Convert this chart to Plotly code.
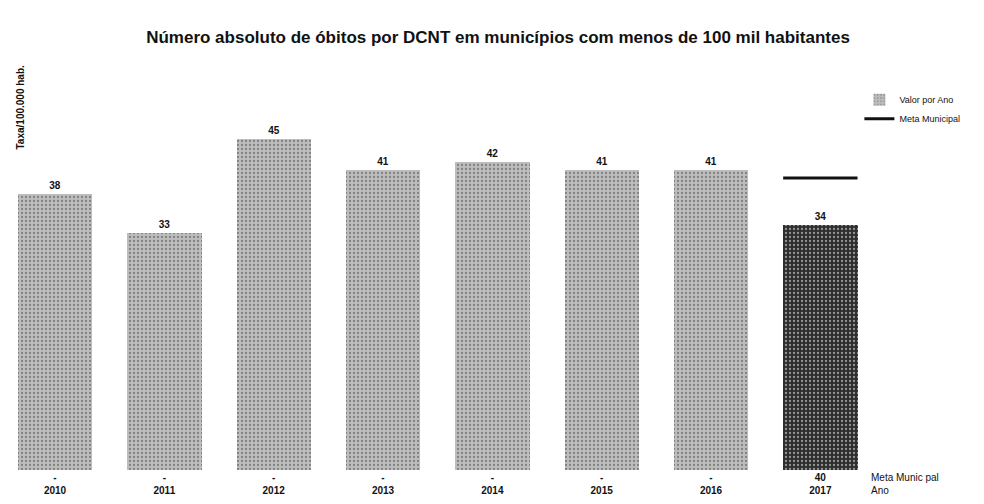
import plotly.graph_objects as go

# -- Chart data -- #
anos = ['2010', '2011', '2012', '2013', '2014', '2015', '2016', '2017']
valor_por_ano = [38, 33, 45, 41, 42, 41, 41, 34]
meta_municipal = [None, None, None, None, None, None, None, 40]

titulo = 'Número absoluto de óbitos por DCNT em municípios com menos de 100 mil habitantes'

# -- Derived helpers -- #
pos = list(range(len(anos)))
cores = ['#bdbdbd'] * (len(anos) - 1) + ['#2e2e2e']
tick_text = ['<b>%s</b><br><b>%s</b>' % ('-' if m is None else m, a)
             for m, a in zip(meta_municipal, anos)]

meta_x, meta_y = [], []
for i, m in enumerate(meta_municipal):
    if m is not None:
        meta_x += [i - 0.34, i + 0.34, None]
        meta_y += [m, m, None]

fig = go.Figure()

fig.add_trace(go.Bar(name='Valor por Ano', x=pos, y=valor_por_ano, width=0.68,
                     marker=dict(color=cores, line=dict(width=0),
                                 pattern=dict(shape='.', fgcolor='#6f6f6f', size=4, solidity=0.25)),
                     text=['<b>%d</b>' % v for v in valor_por_ano], textposition='outside',
                     textfont=dict(size=10, color='#111111'), cliponaxis=False))

fig.add_trace(go.Scatter(name='Meta Municipal', x=meta_x, y=meta_y, mode='lines',
                         line=dict(color='#111111', width=3)))

# -- Layout configuration -- #
fig.update_layout(width=984, height=504, plot_bgcolor='white', paper_bgcolor='white',
                  margin=dict(l=0, r=117, t=99, b=42),
                  font=dict(family='Liberation Sans, Arial, sans-serif', color='#111111'),
                  title=dict(text='<b>%s</b>' % titulo, x=0.498, xanchor='center', y=0.955,
                             font=dict(size=17, color='#111111')),
                  legend=dict(x=0.982, y=1.06, xanchor='left', yanchor='top', font=dict(size=9),
                              bgcolor='rgba(0,0,0,0)', itemwidth=30, tracegroupgap=0),
                  showlegend=True, bargap=0)

fig.update_xaxes(range=[-0.43, 7.5], tickmode='array', tickvals=pos, ticktext=tick_text,
                 showgrid=False, zeroline=False, showline=False, ticks='',
                 tickfont=dict(size=10, color='#111111'))
fig.update_yaxes(range=[3, 49], showticklabels=False, showgrid=False, zeroline=False, showline=False)

fig.add_annotation(text='<b>Taxa/100.000 hab.</b>', textangle=-90, xref='paper', yref='paper',
                   x=0, y=1, xshift=12, yshift=44, xanchor='center', yanchor='top', showarrow=False,
                   font=dict(size=10, color='#111111'))
fig.add_annotation(text='Meta Munic pal<br>Ano', xref='paper', yref='paper', x=1.0, y=0,
                   xshift=-6, yshift=0, xanchor='left', yanchor='top', align='left', showarrow=False,
                   font=dict(size=10, color='#111111'))

fig.write_html('out.html')
